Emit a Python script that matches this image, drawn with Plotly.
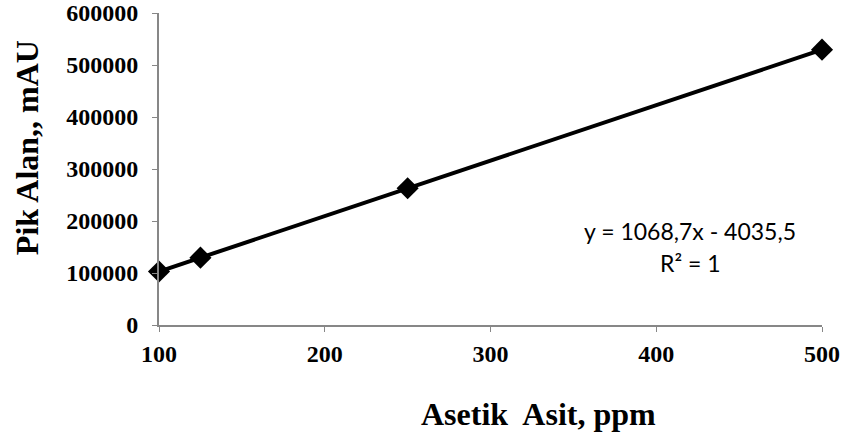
import plotly.graph_objects as go

# Calibration data: acetic acid concentration vs. peak area
concentration_ppm = [100, 125, 250, 500]
peak_area_mau = [102800, 129500, 263100, 529500]

x_ticks = [100, 200, 300, 400, 500]
y_ticks = [0, 100000, 200000, 300000, 400000, 500000, 600000]

fig = go.Figure()
fig.add_trace(go.Scatter(
    x=concentration_ppm,
    y=peak_area_mau,
    mode="lines+markers",
    line=dict(color="black", width=4),
    marker=dict(symbol="diamond", size=17, color="black"),
    showlegend=False,
    cliponaxis=False,
))

tick_font = dict(family="Liberation Serif", size=24, color="black")
axis_common = dict(
    showgrid=False,
    zeroline=False,
    showline=True,
    linecolor="#878787",
    linewidth=2,
    ticks="outside",
    tickcolor="#878787",
    ticklen=5,
    tickwidth=1,
    tickfont=tick_font,
    automargin=False,
)

fig.update_xaxes(
    range=[100, 500],
    tickvals=x_ticks,
    ticktext=[f"<b>{v}</b>" for v in x_ticks],
    ticklabelstandoff=1,
    **axis_common,
)
fig.update_yaxes(
    range=[0, 600000],
    tickvals=y_ticks,
    ticktext=[f"<b>{v}</b>" for v in y_ticks],
    ticklabelstandoff=9,
    **axis_common,
)

fig.add_annotation(
    x=0.572, y=-0.285, xref="paper", yref="paper",
    text="<b>Asetik  Asit, ppm</b>", showarrow=False,
    font=dict(family="Liberation Serif", size=32, color="black"),
    xanchor="center", yanchor="middle",
)
fig.add_annotation(
    x=-0.199, y=0.567, xref="paper", yref="paper",
    text="<b>Pik Alan,, mAU</b>", showarrow=False, textangle=-90,
    font=dict(family="Liberation Serif", size=32, color="black"),
    xanchor="center", yanchor="middle",
)

# Trendline equation and coefficient of determination
eq_font = dict(family="Lato", size=23, color="black")
fig.add_annotation(
    x=0.801, y=0.302, xref="paper", yref="paper",
    text="y = 1068,7x - 4035,5", showarrow=False,
    font=eq_font, xanchor="center", yanchor="middle",
)
fig.add_annotation(
    x=0.801, y=0.199, xref="paper", yref="paper",
    text="R² = 1", showarrow=False,
    font=eq_font, xanchor="center", yanchor="middle",
)

fig.update_layout(
    width=845, height=436,
    margin=dict(l=159, r=23, t=13, b=111),
    paper_bgcolor="white",
    plot_bgcolor="white",
)

fig.write_html("out.html")
